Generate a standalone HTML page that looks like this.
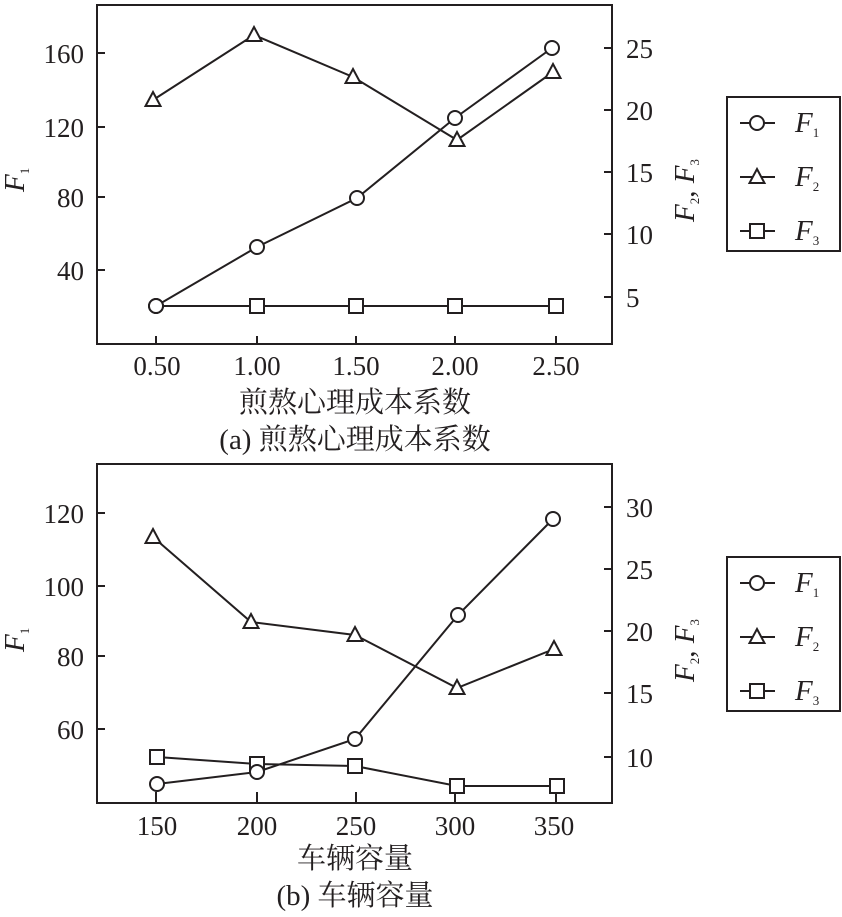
<!DOCTYPE html>
<html><head><meta charset="utf-8"><style>
html,body{margin:0;padding:0;background:#fff}
svg{display:block}
text{font-family:"Liberation Serif","Noto Serif CJK SC",serif;fill:#231f20}
</style></head><body>
<svg width="842" height="917" viewBox="0 0 842 917" xmlns="http://www.w3.org/2000/svg">
<defs>
<g id="c"><circle r="7" fill="#fff" stroke="#231f20" stroke-width="2"/></g>
<g id="t"><path d="M0,-8 L7.5,6 L-7.5,6 Z" fill="#fff" stroke="#231f20" stroke-width="2"/></g>
<g id="s"><rect x="-7" y="-7" width="14" height="14" fill="#fff" stroke="#231f20" stroke-width="2"/></g>
</defs>
<g stroke="#231f20" stroke-width="2" fill="none">
<rect x="97" y="5" width="515" height="339"/>
<path d="M97,53h8M97,127h8M97,197h8M97,270h8"/>
<path d="M612,48h-8M612,110h-8M612,172h-8M612,234h-8M612,297h-8"/>
<path d="M156,344v-8M257,344v-8M356,344v-8M455,344v-8M556,344v-8"/>
<polyline points="156,306 257,247 357,198 455,118 552,48"/>
<polyline points="153,100 254,35 353,77 457,140 553,72"/>
<polyline points="156,306 257,306 356,306 455,306 556,306"/>
<rect x="97" y="464" width="515" height="339"/>
<path d="M97,513h8M97,586h8M97,656h8M97,729h8"/>
<path d="M612,507h-8M612,569h-8M612,631h-8M612,693h-8M612,757h-8"/>
<path d="M156,803v-11M257,803v-11M356,803v-11M455,803v-11M556,803v-11"/>
<polyline points="157,784 257,772 355,739 458,615 553,519"/>
<polyline points="153,537 251,622 355,635 457,688 554,649"/>
<polyline points="157,757 257,764 355,766 457,786 557,786"/>
<rect x="727" y="97" width="113" height="154"/>
<path d="M740,123h35M740,177h35M740,231h35"/>
<rect x="727" y="557" width="113" height="154"/>
<path d="M740,583h35M740,637h35M740,691h35"/>
</g>
<use href="#c" x="156" y="306"/><use href="#c" x="257" y="247"/><use href="#c" x="357" y="198"/><use href="#c" x="455" y="118"/><use href="#c" x="552" y="48"/>
<use href="#t" x="153" y="100"/><use href="#t" x="254" y="35"/><use href="#t" x="353" y="77"/><use href="#t" x="457" y="140"/><use href="#t" x="553" y="72"/>
<use href="#s" x="257" y="306"/><use href="#s" x="356" y="306"/><use href="#s" x="455" y="306"/><use href="#s" x="556" y="306"/><use href="#c" x="156" y="306"/>
<use href="#t" x="153" y="537"/><use href="#t" x="251" y="622"/><use href="#t" x="355" y="635"/><use href="#t" x="457" y="688"/><use href="#t" x="554" y="649"/>
<use href="#s" x="157" y="757"/><use href="#s" x="257" y="764"/><use href="#s" x="355" y="766"/><use href="#s" x="457" y="786"/><use href="#s" x="557" y="786"/>
<use href="#c" x="157" y="784"/><use href="#c" x="257" y="772"/><use href="#c" x="355" y="739"/><use href="#c" x="458" y="615"/><use href="#c" x="553" y="519"/>
<use href="#c" x="757" y="123"/><use href="#t" x="757" y="177"/><use href="#s" x="757" y="231"/>
<use href="#c" x="757" y="583"/><use href="#t" x="757" y="637"/><use href="#s" x="757" y="691"/>
<g font-size="27">
<g text-anchor="end"><text x="84" y="63">160</text><text x="84" y="137">120</text><text x="84" y="207">80</text><text x="84" y="280">40</text>
<text x="84" y="523">120</text><text x="84" y="596">100</text><text x="84" y="666">80</text><text x="84" y="739">60</text></g>
<text x="626" y="58">25</text><text x="626" y="120">20</text><text x="626" y="182">15</text><text x="626" y="244">10</text><text x="626" y="307">5</text>
<text x="626" y="517">30</text><text x="626" y="579">25</text><text x="626" y="641">20</text><text x="626" y="703">15</text><text x="626" y="767">10</text>
<g text-anchor="middle"><text x="157" y="375">0.50</text><text x="257" y="375">1.00</text><text x="356" y="375">1.50</text><text x="455" y="375">2.00</text><text x="556" y="375">2.50</text>
<text x="157" y="835">150</text><text x="257" y="835">200</text><text x="356" y="835">250</text><text x="455" y="835">300</text><text x="554" y="835">350</text>
<text x="355" y="412" font-size="29">煎熬心理成本系数</text><text x="355" y="449" font-size="29">(a) 煎熬心理成本系数</text>
<text x="355" y="868" font-size="29">车辆容量</text><text x="355" y="905" font-size="29">(b) 车辆容量</text></g>
<g font-size="29">
<text x="795" y="132" font-style="italic">F<tspan font-size="13" font-style="normal" dy="5">1</tspan></text>
<text x="795" y="186" font-style="italic">F<tspan font-size="13" font-style="normal" dy="5">2</tspan></text>
<text x="795" y="240" font-style="italic">F<tspan font-size="13" font-style="normal" dy="5">3</tspan></text>
<text x="795" y="592" font-style="italic">F<tspan font-size="13" font-style="normal" dy="5">1</tspan></text>
<text x="795" y="646" font-style="italic">F<tspan font-size="13" font-style="normal" dy="5">2</tspan></text>
<text x="795" y="700" font-style="italic">F<tspan font-size="13" font-style="normal" dy="5">3</tspan></text>
<text transform="translate(24,192) rotate(-90)" font-style="italic">F<tspan font-size="13" font-style="normal" dy="5">1</tspan></text>
<text transform="translate(24,652) rotate(-90)" font-style="italic">F<tspan font-size="13" font-style="normal" dy="5">1</tspan></text>
<text transform="translate(694,222) rotate(-90)" font-style="italic">F<tspan font-size="13" font-style="normal" dy="5">2</tspan><tspan dy="-5" font-style="normal">, </tspan>F<tspan font-size="13" font-style="normal" dy="5">3</tspan></text>
<text transform="translate(694,682) rotate(-90)" font-style="italic">F<tspan font-size="13" font-style="normal" dy="5">2</tspan><tspan dy="-5" font-style="normal">, </tspan>F<tspan font-size="13" font-style="normal" dy="5">3</tspan></text>
</g>
</g>
</svg>
</body></html>
